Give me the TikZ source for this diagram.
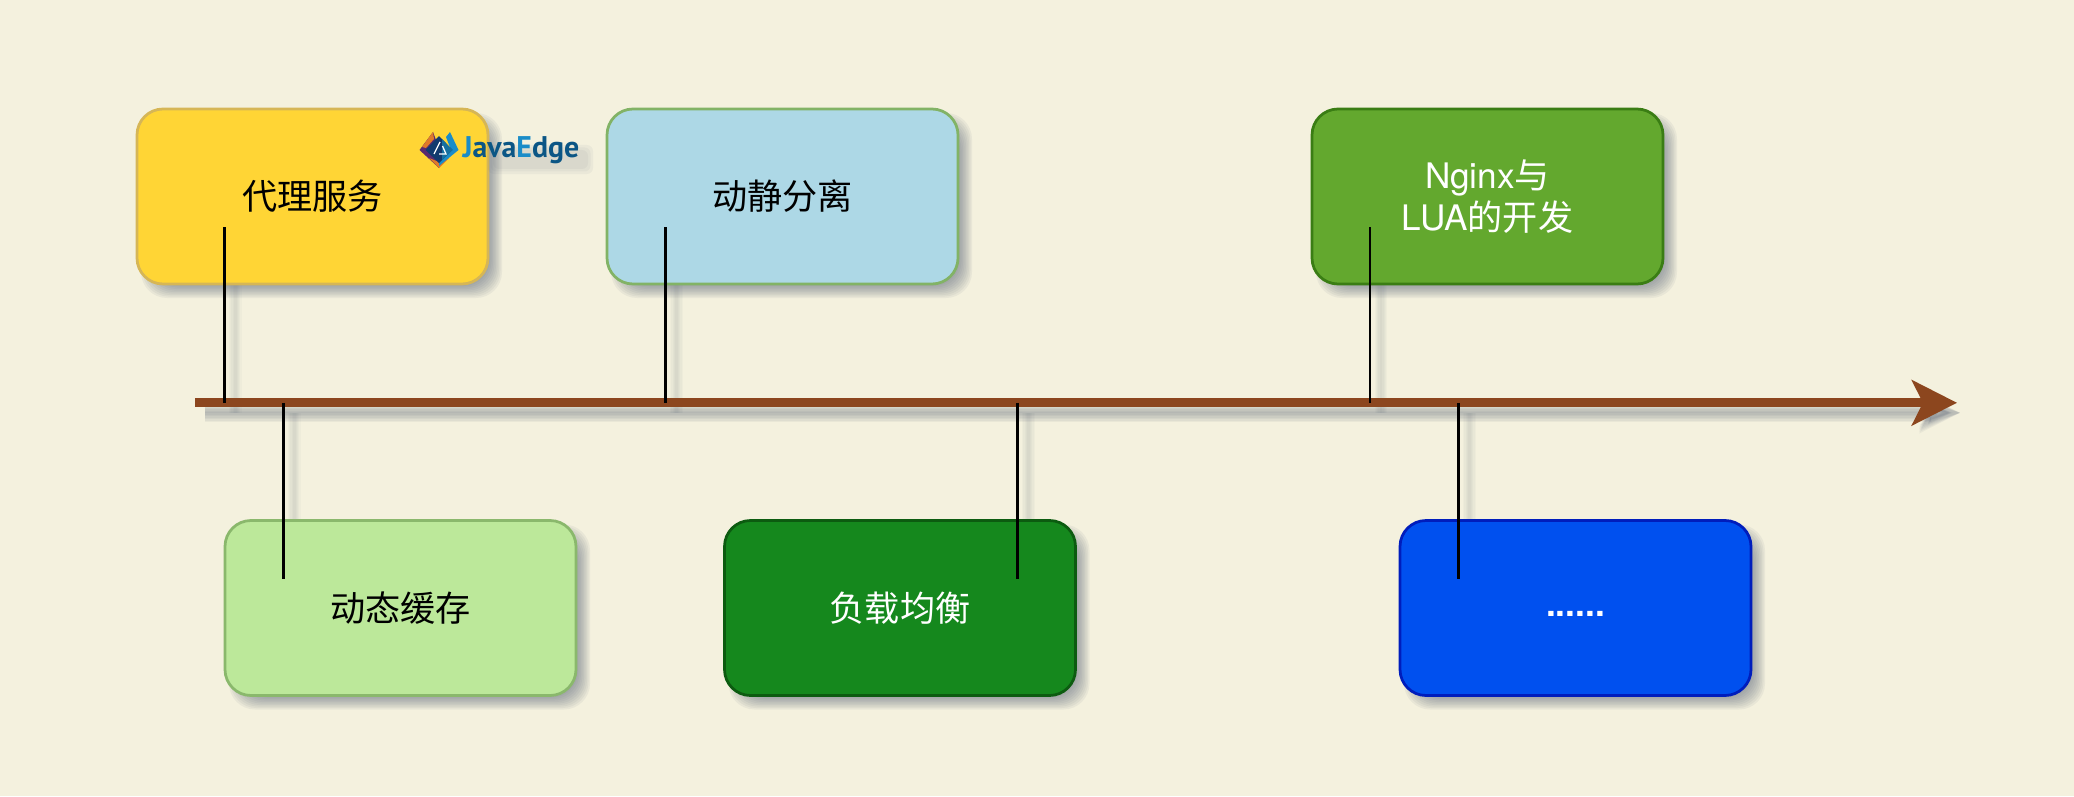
\documentclass[tikz,border=0pt]{standalone}
\usepackage{fontspec}
\setmainfont{TeX Gyre Heros}
\newfontfamily\cjk{Noto Sans CJK SC}
\newfontfamily\logofont{PT Sans}[BoldFont={PT Sans Bold}]
\usetikzlibrary{arrows.meta}

\definecolor{pagebg}{HTML}{F4F1DE}
\definecolor{shadowgray}{HTML}{5A6478}
\definecolor{axisbrown}{HTML}{8C461E}
\definecolor{logoblue}{HTML}{1A8CC8}
\definecolor{logodark}{HTML}{0B5685}
\definecolor{logonavy}{HTML}{123A6E}
\definecolor{logowing}{HTML}{E07A28}
\definecolor{logoviolet}{HTML}{5A2A6E}

\tikzset{
  stagebox/.style={rectangle, rounded corners=.52cm, line width=.055cm,
    minimum width=7.02cm, minimum height=3.5cm, inner sep=0pt, align=center, font=\fontsize{20}{23.5}\selectfont},
  shadowbox/.style={rectangle, rounded corners=.52cm, fill=shadowgray, fill opacity=.075, inner sep=0pt,
    minimum width=7.02cm+#1, minimum height=3.5cm+#1},
  darktext/.style={text=black},
  lighttext/.style={text=white},
  axisline/.style={line width=.18cm, -{Stealth[length=.9cm, width=.9cm, inset=.22cm]}},
  tickline/.style={line width=.055cm}
}

\begin{document}
\begin{tikzpicture}
    \useasboundingbox[fill=pagebg] (0,0) rectangle (41.48,15.92);

    \coordinate (axisstart) at (3.9,7.864);
    \coordinate (axisend) at (39.14,7.864);
    \foreach \tickname/\tickx/\ticky in {proxy/4.486/11.38, split/13.31/11.38, lua/27.4/11.38, cache/5.666/4.34, balance/20.35/4.34, more/29.17/4.34} {
        \coordinate (\tickname top) at (\tickx,7.864);
        \coordinate (\tickname in) at (\tickx,\ticky);
    }

    % shadows go under the boxes
    \foreach \grow in {0,.06,.12,.18,.24,.3}
        \draw[line width=.08cm+\grow cm, draw=shadowgray, fill=shadowgray, opacity=.07, -{Stealth[length=.8cm, width=.5cm+\grow cm, inset=.18cm]}] ([shift={(.2,-.2)}]axisstart) -- ([shift={(.06,-.2)}]axisend);
    \foreach \grow in {0,.05,.1,.15,.2}
        \foreach \tickname in {proxy,split,lua,cache,balance,more}
            \draw[tickline, line width=.055cm+\grow cm, draw=shadowgray, opacity=.035] ([shift={(.22,-.2)}]\tickname top) -- ([shift={(.22,-.2)}]\tickname in);
    \begin{scope}[shift={(.18,-.18)}]
        \foreach \boxx/\boxy in {6.25/11.99, 15.65/11.99, 29.75/11.99, 8.01/3.76, 18.0/3.76, 31.51/3.76}
            \foreach \grow in {.2cm,.14cm,.08cm,.02cm,-.04cm,-.1cm,-.16cm,-.22cm,-.28cm}
                \node[shadowbox=\grow] at (\boxx,\boxy) {};
    \end{scope}

    \node[stagebox, darktext, fill={rgb,255:red,255;green,213;blue,53}, draw={rgb,255:red,214;green,182;blue,86}] (proxy) at (6.25,11.99) {\cjk 代理服务};
    \node[stagebox, darktext, fill={rgb,255:red,173;green,216;blue,230}, draw={rgb,255:red,130;green,179;blue,102}] (split) at (15.65,11.99) {\cjk 动静分离};
    \node[stagebox, lighttext, fill={rgb,255:red,99;green,168;blue,46}, draw={rgb,255:red,58;green,125;blue,20}] (lua) at (29.75,11.99) {Nginx{\cjk 与}\\LUA{\cjk 的开发}};
    \node[stagebox, darktext, fill={rgb,255:red,188;green,232;blue,154}, draw={rgb,255:red,138;green,184;blue,108}] (cache) at (8.01,3.76) {\cjk 动态缓存};
    \node[stagebox, lighttext, fill={rgb,255:red,21;green,136;blue,29}, draw={rgb,255:red,12;green,91;blue,16}] (balance) at (18.0,3.76) {\cjk 负载均衡};
    \node[stagebox, lighttext, fill={rgb,255:red,0;green,80;blue,239}, draw={rgb,255:red,0;green,29;blue,188}] (more) at (31.51,3.76) {\vphantom{Ag}\bfseries ......};

    \draw[axisline, draw=axisbrown, fill=axisbrown] (axisstart) -- (axisend);

    \foreach \tickname in {proxy,split,lua,cache,balance,more}
        \draw[tickline] (\tickname top) -- (\tickname in);

    % small logo over the first box
    \foreach \grow in {.14,.09,.04}
        \fill[shadowgray, opacity=.06, rounded corners=.12cm] (9.9-\grow,12.58-\grow) rectangle (11.72+\grow,12.88+\grow);
    \node[font=\logofont\bfseries\fontsize{17}{18}\selectfont, inner sep=0pt] (logo) at (10.42,12.92) {\textcolor{logoblue}{J}\textcolor{logodark}{ava}\textcolor{logoblue}{E}\textcolor{logodark}{dge}};
    \begin{scope}[shift={(8.78,12.92)}]
        \fill[logoviolet] (-.39,0) -- (-.12,.36) -- (-.06,.2) -- (-.24,0) -- (0,-.24) -- (0,-.36) -- cycle;
        \fill[logowing] (-.34,.06) -- (-.12,.36) -- (-.1,.22) -- (-.26,.04) -- cycle;
        \fill[logowing] (-.2,-.16) -- (0,-.36) -- (.2,-.16) -- (0,-.24) -- cycle;
        \fill[logoblue] (.39,0) -- (.22,.36) -- (.14,.26) -- (.24,0) -- (0,-.24) -- (0,-.32) -- cycle;
        \fill[logonavy] (0,.28) -- (.27,0) -- (0,-.26) -- (-.27,0) -- cycle;
        \fill[logoblue!80!black] (.06,.22) -- (.27,0) -- (.06,-.2) -- cycle;
        \draw[white, line width=.025cm] (-.1,-.08) -- (.02,.16) (.0,-.08) -- (.14,-.08) -- (.07,.08);
    \end{scope}
\end{tikzpicture}
\end{document}
